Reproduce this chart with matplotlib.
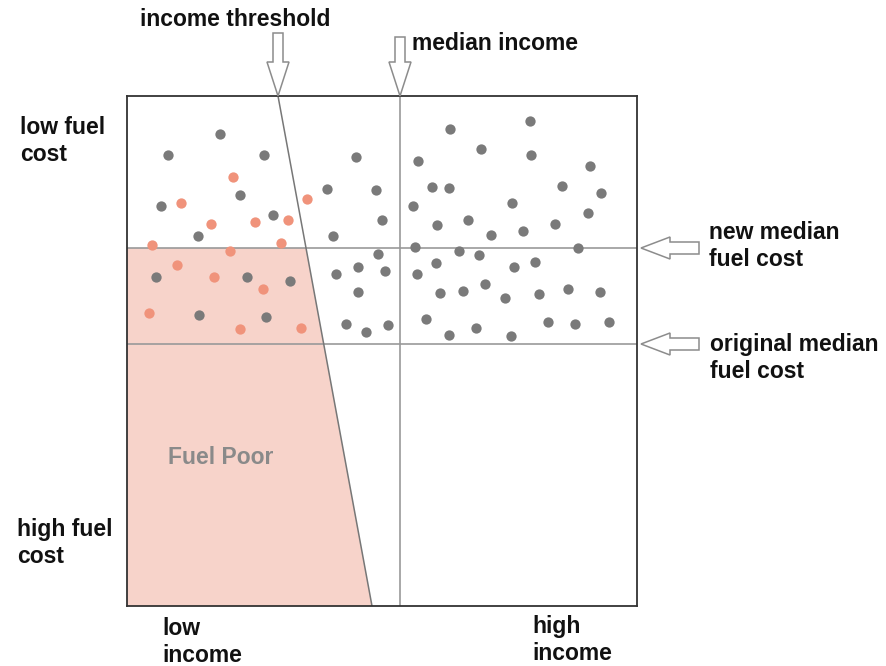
import numpy as np
import matplotlib
matplotlib.use('Agg')
import matplotlib.pyplot as plt
from matplotlib.patches import Polygon

plt.rcParams['font.family'] = ['Liberation Sans', 'DejaVu Sans']

# ------------------------------------------------------------
# Data (income on x, fuel cost on y; fuel cost grows downwards)
# ------------------------------------------------------------
income_range = [127, 637]
fuel_range = [96, 606]

median_income = 400
new_median_fuel = 248
original_median_fuel = 344

# income threshold line: income at top / bottom of the frame
threshold_fuel = [96, 606]
threshold_income = [278, 372]

# households not fuel poor (gray)
gray_income = [220, 168, 264, 240, 161, 273, 198,
               450, 481, 356, 418, 327, 376, 432, 449, 413, 382, 437, 468, 491,
               333, 415, 459, 479, 378, 436,
               530, 531, 590, 562, 601, 512, 588, 555, 523, 578,
               156, 247, 290, 199, 266,
               358, 336, 385, 417, 358, 440, 463, 485, 426, 346, 366, 388, 449, 476,
               514, 535, 505, 539, 568, 600, 548, 575, 609, 511]
gray_fuel = [134, 155, 155, 195, 206, 215, 236,
             129, 149, 157, 161, 189, 190, 187, 188, 206, 220, 225, 220, 235,
             236, 247, 251, 255, 254, 263,
             121, 155, 166, 186, 193, 203, 213, 224, 231, 248,
             277, 277, 281, 315, 317,
             267, 274, 271, 274, 292, 293, 291, 284, 319, 324, 332, 325, 335, 328,
             267, 262, 298, 294, 289, 292, 322, 324, 322, 336]

# fuel poor households (orange)
poor_income = [233, 181, 307, 211, 255, 288, 152, 281, 230, 177, 214, 263, 149, 240, 301]
poor_fuel = [177, 203, 199, 224, 222, 220, 245, 243, 251, 265, 277, 289, 313, 329, 328]

# ------------------------------------------------------------
W, H = 886, 666
fig = plt.figure(figsize=(W / 100, H / 100), dpi=100)
fig.patch.set_facecolor('white')

x0, x1 = income_range
y0, y1 = fuel_range
ax = fig.add_axes([x0 / W, (H - y1) / H, (x1 - x0) / W, (y1 - y0) / H])
ax.set_xlim(x0, x1)
ax.set_ylim(y1, y0)
ax.set_xticks([])
ax.set_yticks([])
for s in ax.spines.values():
    s.set_color('#333333')
    s.set_linewidth(1.3)

# fuel poor area: below new median, left of threshold
thr_at_new = np.interp(new_median_fuel, threshold_fuel, threshold_income)
poly_x = [x0, thr_at_new, threshold_income[1], x0]
poly_y = [new_median_fuel, new_median_fuel, threshold_fuel[1], threshold_fuel[1]]
ax.fill(poly_x, poly_y, color='#f7d3ca', lw=0, zorder=1)

ax.axvline(median_income, color='#999999', lw=1.2, zorder=2)
ax.axhline(new_median_fuel, color='#999999', lw=1.2, zorder=2)
ax.axhline(original_median_fuel, color='#999999', lw=1.2, zorder=2)
ax.plot(threshold_income, threshold_fuel, color='#777777', lw=1.1, zorder=2)

ax.scatter(gray_income, gray_fuel, s=55, color='#7a7a7a', lw=0, zorder=3)
ax.scatter(poor_income, poor_fuel, s=55, color='#f0937b', lw=0, zorder=3)

ax.text(168, 458, 'Fuel Poor', color='#8a8a8a', fontsize=16.5, fontweight='bold',
        ha='left', va='center', zorder=4)

# ------------------------------------------------------------
# overlay in pixel units for hollow arrows and labels
ov = fig.add_axes([0, 0, 1, 1], facecolor='none')
ov.set_xlim(0, W)
ov.set_ylim(H, 0)
ov.axis('off')


def down_arrow(xc, top, tip):
    sw, hw, hl = 5, 11, 34
    pts = [(xc - sw, top), (xc + sw, top), (xc + sw, tip - hl), (xc + hw, tip - hl),
           (xc, tip), (xc - hw, tip - hl), (xc - sw, tip - hl)]
    ov.add_patch(Polygon(pts, closed=True, fc='white', ec='#8c8c8c', lw=1.1))


def left_arrow(yc, tip, tail):
    sh, hh, hl = 6, 11, 29
    pts = [(tip, yc), (tip + hl, yc - hh), (tip + hl, yc - sh), (tail, yc - sh),
           (tail, yc + sh), (tip + hl, yc + sh), (tip + hl, yc + hh)]
    ov.add_patch(Polygon(pts, closed=True, fc='white', ec='#8c8c8c', lw=1.1))


down_arrow(threshold_income[0], 33, 96)
down_arrow(median_income, 37, 96)
left_arrow(new_median_fuel, 641, 699)
left_arrow(original_median_fuel, 641, 699)

lab = dict(fontsize=16.5, fontweight='bold', color='#111111', linespacing=1.25)
ov.text(140, 20, 'income threshold', ha='left', va='center', **lab)
ov.text(412, 44, 'median income', ha='left', va='center', **lab)
ov.text(20, 141, 'low fuel\ncost', ha='left', va='center', **lab)
ov.text(17, 543, 'high fuel\ncost', ha='left', va='center', **lab)
ov.text(162, 642, 'low\nincome', ha='left', va='center', **lab)
ov.text(532, 640, 'high\nincome', ha='left', va='center', **lab)
ov.text(709, 246, 'new median\nfuel cost', ha='left', va='center', **lab)
ov.text(710, 358, 'original median\nfuel cost', ha='left', va='center', **lab)

fig.savefig('out.png', dpi=100)
